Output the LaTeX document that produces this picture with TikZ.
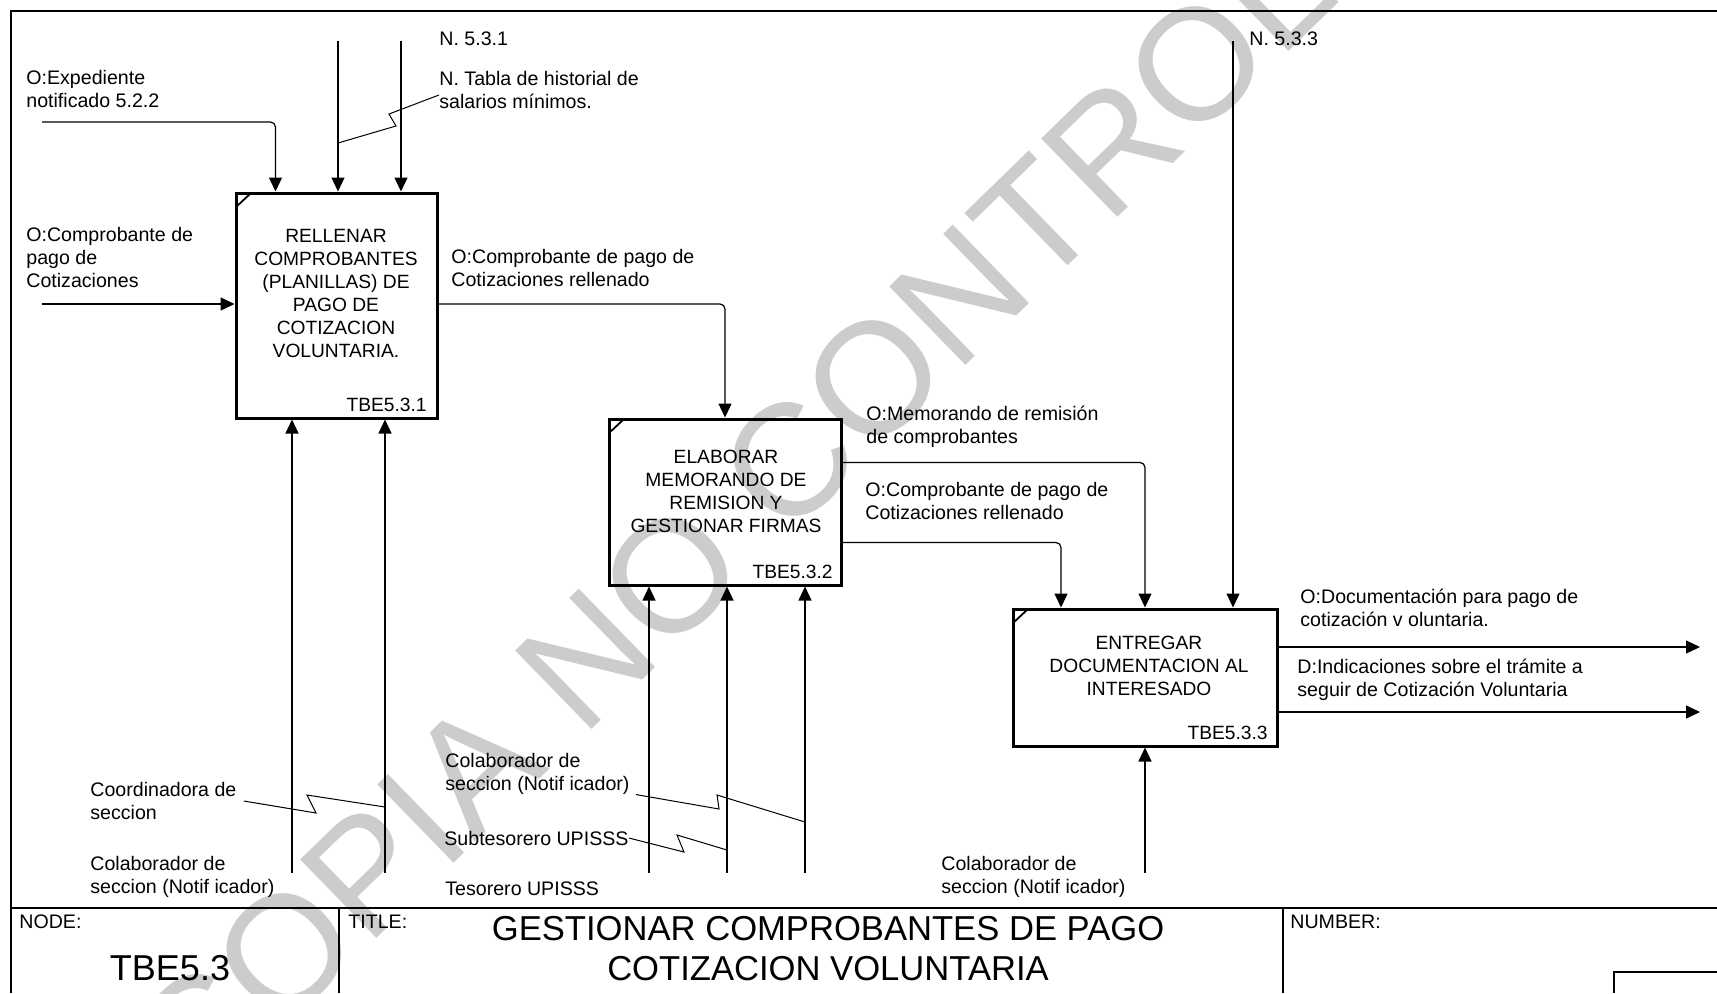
\documentclass[tikz,border=0pt]{standalone}
\usepackage{fontspec}
\setmainfont{Liberation Sans}
\usetikzlibrary{arrows.meta, positioning}
\tikzset{
  actbox/.style = {draw, line width=1.5pt, inner sep=0pt,
      path picture={\draw[line width=0.9pt]
        ([yshift=-7pt]path picture bounding box.north west) --
        ([xshift=7.5pt]path picture bounding box.north west);}},
  flow/.style = {line width=0.6pt, -{Triangle[length=7pt, width=6.5pt]},
      rounded corners=2.5pt},
  squig/.style = {line width=0.5pt},
  lbl/.style = {anchor=west, align=left, inner sep=0pt,
      font=\fontsize{9.8}{11.5}\selectfont},
  boxtxt/.style = {align=center, inner sep=0pt,
      font=\fontsize{9.6}{11.5}\selectfont},
  tag/.style = {anchor=east, inner sep=0pt,
      font=\fontsize{9.6}{11.5}\selectfont},
  frame/.style = {line width=1pt},
  wmark/.style = {black!20, anchor=base west, inner sep=0pt,
      font=\fontsize{79.5}{80}\selectfont, rotate=44.2},
}

\begin{document}
\begin{tikzpicture}[x=0.5pt, y=-0.5pt]
  \useasboundingbox (0,0) rectangle (1717,993);
  \fill[white] (0,0) rectangle (1717,993);

  % watermark
  \begin{scope}
    \clip (0,0) rectangle (1717,993);
    \node[wmark] (wm) at (196,1114) {COPIA NO CONTROLADA};
  \end{scope}

  % frame and title block
  \draw[frame] (1717,11) -| (11,993);
  \draw[frame] (11,908) -- (1717,908);
  \draw[frame] (339,908) -- (339,993);
  \draw[frame] (1283,908) -- (1283,993);
  \draw[frame] (1717,972) -| (1614,993);

  \node[lbl] (node) at (19,922) {NODE:};
  \node[lbl] (title) at (348,922) {TITLE:};
  \node[lbl] (number) at (1290,922) {NUMBER:};
  \node[font=\fontsize{18}{20}\selectfont, inner sep=0pt] (nodeid) at (170,968) {TBE5.3};
  \node[align=center, inner sep=0pt, font=\fontsize{17.3}{20}\selectfont] (titletxt) at (828,949)
    {GESTIONAR COMPROBANTES DE PAGO\\COTIZACION VOLUNTARIA};

  % activities
  \node[actbox, minimum width=100.5pt, minimum height=112.5pt] (a1) at (336.5,305.5) {};
  \node[actbox, minimum width=116pt, minimum height=83pt] (a2) at (725,502) {};
  \node[actbox, minimum width=132pt, minimum height=68.5pt] (a3) at (1145,677.5) {};

  \node[boxtxt] at (336,293) {RELLENAR\\COMPROBANTES\\(PLANILLAS) DE\\PAGO DE\\COTIZACION\\VOLUNTARIA.};
  \node[boxtxt] at (726,491) {ELABORAR\\MEMORANDO DE\\REMISION Y\\GESTIONAR FIRMAS};
  \node[boxtxt] at (1149,666) {ENTREGAR\\DOCUMENTACION AL\\INTERESADO};
  \node[tag] at (427,405) {TBE5.3.1};
  \node[tag] at (833,572) {TBE5.3.2};
  \node[tag] at (1268,733) {TBE5.3.3};

  % free ends
  \coordinate (i1) at (42,122);
  \coordinate (i2) at (42,304);
  \coordinate (c1) at (338,41);
  \coordinate (c2) at (401,41);
  \coordinate (c3) at (1233,41);
  \coordinate (o1) at (1700,647);
  \coordinate (o2) at (1700,712);

  % inputs and controls
  \draw[flow] (i1) -| ([xshift=20.5pt]a1.north west);
  \draw[flow] (c1) -- (c1 |- a1.north);
  \draw[flow] (c2) -- (c2 |- a1.north);
  \draw[flow] (i2) -- (i2 -| a1.west);
  \draw[flow] (c3) -- (c3 |- a3.north);

  % between activities
  \draw[flow] (a1.east |- i2) -| (a2.north);
  \draw[flow] ([yshift=-22.5pt]a2.north east) -| (a3.north);
  \draw[flow] ([yshift=-62.5pt]a2.north east) -| ([xshift=-42pt]a3.north);

  % outputs
  \draw[flow] (a3.east |- o1) -- (o1);
  \draw[flow] (a3.east |- o2) -- (o2);

  % mechanisms
  \foreach \x/\n/\i in {292/a1/1, 385/a1/2, 649/a2/3, 727/a2/4, 805/a2/5, 1145/a3/6} {
    \coordinate (m\i) at (\x,873);
    \draw[flow] (m\i) -- (m\i |- \n.south);
  }

  % labels
  \node[lbl] (l531) at (439,39) {N. 5.3.1};
  \node[lbl] (ltabla) at (439,89.5) {N. Tabla de historial de\\salarios mínimos.};
  \node[lbl] (lexp) at (26,88.5) {O:Expediente\\notificado 5.2.2};
  \node[lbl] (lcomp) at (26,257) {O:Comprobante de\\pago de\\Cotizaciones};
  \node[lbl] (lrell) at (451,268) {O:Comprobante de pago de\\Cotizaciones rellenado};
  \node[lbl] (lmemo) at (866,426.5) {O:Memorando de remisión\\de comprobantes};
  \node[lbl] (lrell2) at (865,500.5) {O:Comprobante de pago de\\Cotizaciones rellenado};
  \node[lbl] (l533) at (1249,39) {N. 5.3.3};
  \node[lbl] (ldoc) at (1300,608) {O:Documentación para pago de\\cotización v oluntaria.};
  \node[lbl] (lind) at (1297,680) {D:Indicaciones sobre el trámite a\\seguir de Cotización Voluntaria};
  \node[lbl] (lcoord) at (90,801) {Coordinadora de\\seccion};
  \node[lbl] (lcolab1) at (90,876.5) {Colaborador de\\seccion (Notif icador)};
  \node[lbl] (lcolab2) at (445,773.5) {Colaborador de\\seccion (Notif icador)};
  \node[lbl] (lsubt) at (444,838) {Subtesorero UPISSS};
  \node[lbl] (ltes) at (445,889) {Tesorero UPISSS};
  \node[lbl] (lcolab3) at (941,876.5) {Colaborador de\\seccion (Notif icador)};

  % squiggles
  \draw[squig] (c1 |- 0,143) -- (396,126) -- (389,114) -- ([yshift=-2.75pt]ltabla.west);
  \draw[squig] ([xshift=3.5pt]lcoord.east) -- (316,813) -- (307,795) -- (m2 |- 0,807);
  \draw[squig] ([xshift=3pt]lcolab2.south east) -- (719,809) -- (717,795) -- (m5 |- 0,822);
  \draw[squig] (lsubt.east) -- (684,852) -- (677,835) -- (m4 |- 0,850);
\end{tikzpicture}
\end{document}
